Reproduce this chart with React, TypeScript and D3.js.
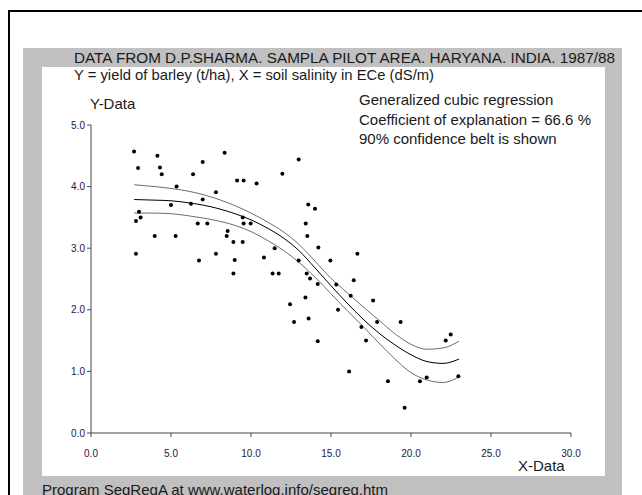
import React from "react";
import * as d3 from "d3";

const W = 642;
const H = 495;

const titleText = "DATA FROM D.P.SHARMA. SAMPLA PILOT AREA. HARYANA. INDIA. 1987/88";
const subtitleText = "Y = yield of barley (t/ha), X = soil salinity in ECe (dS/m)";
const infoLines = [
  "Generalized cubic regression",
  "Coefficient of explanation = 66.6 %",
  "90% confidence belt is shown",
];
const footerText = "Program SegRegA at www.waterlog.info/segreg.htm";

const xTicks = [0, 5, 10, 15, 20, 25, 30];
const yTicks = [0, 1, 2, 3, 4, 5];

const pointsX = [
  2.69, 2.94, 2.81, 3.0, 3.1, 2.81, 4.15, 4.31, 4.42, 3.98,
  5.35, 5.0, 5.29, 6.38, 6.98, 6.25, 6.98, 6.67, 7.27, 6.75,
  8.35, 7.81, 7.81, 8.54, 8.48, 8.9, 8.98, 8.9, 9.13, 9.54,
  9.48, 9.54, 9.98, 9.48, 10.35, 10.81, 11.48, 11.35, 11.73, 11.96,
  12.98, 12.98, 13.42, 13.58, 13.52, 13.48, 13.69, 14.17, 14.0, 14.21,
  14.96, 16.65, 15.33, 16.42, 16.23, 17.63, 13.4, 12.44, 15.44, 13.6,
  12.69, 14.17, 17.88, 19.35, 16.9, 17.19, 16.13, 18.56, 19.6, 20.56,
  20.98, 22.17, 22.48, 22.96,
];
const pointsY = [
  4.57, 4.3, 3.44, 3.59, 3.5, 2.91, 4.5, 4.31, 4.2, 3.2,
  4.0, 3.7, 3.2, 4.2, 4.4, 3.72, 3.79, 3.4, 3.4, 2.8,
  4.55, 3.91, 2.91, 3.28, 3.2, 3.1, 2.81, 2.59, 4.1, 4.1,
  3.5, 3.4, 3.4, 3.1, 4.05, 2.85, 3.0, 2.59, 2.59, 4.21,
  4.44, 2.8, 3.4, 3.71, 3.2, 2.59, 2.51, 2.42, 3.64, 3.01,
  2.8, 2.91, 2.41, 2.48, 2.23, 2.15, 2.2, 2.09, 2.0, 1.86,
  1.8, 1.49, 1.8, 1.8, 1.72, 1.5, 1.0, 0.84, 0.41, 0.84,
  0.9, 1.5, 1.6, 0.92,
];

const curveX = [2.7, 4, 5, 6, 7, 8, 9, 10, 11, 12, 13, 14, 15, 16, 17, 18, 19, 20, 21, 22, 23];
const centerY = [3.79, 3.78, 3.77, 3.74, 3.7, 3.64, 3.56, 3.46, 3.33, 3.17, 2.96, 2.68, 2.39, 2.11, 1.85, 1.62, 1.43, 1.27, 1.16, 1.13, 1.2];
const upperY = [4.03, 4.0, 3.97, 3.93, 3.87, 3.79, 3.69, 3.57, 3.43, 3.27, 3.06, 2.79, 2.51, 2.28, 2.05, 1.83, 1.61, 1.44, 1.36, 1.38, 1.49];
const lowerY = [3.57, 3.57, 3.56, 3.53, 3.49, 3.44, 3.37, 3.27, 3.13, 2.97, 2.77, 2.53, 2.26, 1.99, 1.73, 1.46, 1.2, 0.98, 0.86, 0.82, 0.91];

export default function App() {
  const x = d3.scaleLinear().domain([0, 30]).range([91, 571]);
  const y = d3.scaleLinear().domain([0, 5]).range([433, 125]);

  const line = (ys: number[]) =>
    d3
      .line<number>()
      .x((_, i) => x(curveX[i]))
      .y((d) => y(d))
      .curve(d3.curveMonotoneX)(ys) as string;

  const font = "Arial, 'Liberation Sans', sans-serif";
  const tickColor = "#1a1a3a";
  const textColor = "#1a1a1a";

  return (
    <svg
      width={W}
      height={H}
      style={{ position: "absolute", left: 0, top: 0, display: "block" }}
      fontFamily={font}
    >
      <rect x={0} y={0} width={W} height={H} fill="#fff" />
      <rect x={9} y={11} width={700} height={600} fill="none" stroke="#000" strokeWidth={2} />
      <rect x={23} y={48} width={599} height={460} fill="#c0c0c0" />
      <rect x={42} y={67} width={563} height={409} fill="#fff" />

      <text x={74} y={63} fontSize={15.2} fill={textColor} textLength={541} lengthAdjust="spacingAndGlyphs">{titleText}</text>
      <text x={74} y={80} fontSize={15} fill={textColor} textLength={360} lengthAdjust="spacingAndGlyphs">{subtitleText}</text>
      <text x={90} y={109} fontSize={15} fill={textColor}>Y-Data</text>
      {infoLines.map((t, i) => (
        <text key={i} x={359} y={105 + i * 19.5} fontSize={15} fill={textColor}>{t}</text>
      ))}
      <text x={518} y={471} fontSize={15} fill={textColor}>X-Data</text>
      <text x={42} y={495} fontSize={15} fill={textColor}>{footerText}</text>

      {/* axes */}
      <line x1={x(0)} x2={x(30)} y1={y(0)} y2={y(0)} stroke="#444" strokeWidth={1} />
      <line x1={x(0)} x2={x(0)} y1={y(0)} y2={y(5)} stroke="#444" strokeWidth={1} />
      {xTicks.map((t) => (
        <g key={"x" + t}>
          <line x1={x(t)} x2={x(t)} y1={y(0)} y2={y(0) + 4} stroke="#444" />
          <text x={x(t)} y={457} fontSize={10} textAnchor="middle" fill={tickColor}>
            {t.toFixed(1)}
          </text>
        </g>
      ))}
      {yTicks.map((t) => (
        <g key={"y" + t}>
          <line x1={x(0) - 4} x2={x(0)} y1={y(t)} y2={y(t)} stroke="#444" />
          <text x={85} y={y(t) + 3.5} fontSize={10} textAnchor="end" fill={tickColor}>
            {t.toFixed(1)}
          </text>
        </g>
      ))}

      {/* confidence belt */}
      <path d={line(upperY)} fill="none" stroke="#6e6e6e" strokeWidth={1} />
      <path d={line(lowerY)} fill="none" stroke="#6e6e6e" strokeWidth={1} />
      <path d={line(centerY)} fill="none" stroke="#000" strokeWidth={1} />

      {pointsX.map((px, i) => (
        <circle key={i} cx={x(px)} cy={y(pointsY[i])} r={2} fill="#000" />
      ))}
    </svg>
  );
}
